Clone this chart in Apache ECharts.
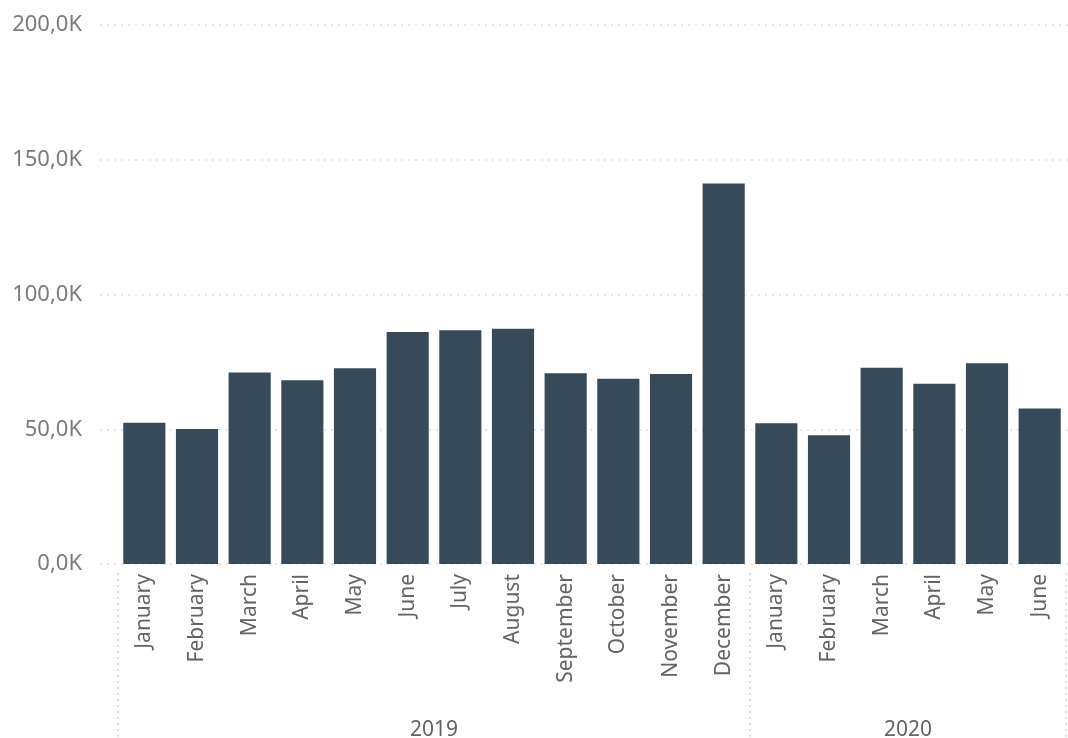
<!DOCTYPE html>
<html><head><meta charset="utf-8">
<script src="https://cdn.jsdelivr.net/npm/echarts@6/dist/echarts.min.js"></script>
<style>html,body{margin:0;padding:0;background:#fff}#c{width:1068px;height:738px}</style>
</head><body><div id="c"></div>
<script>
const months = ['January','February','March','April','May','June','July','August','September','October','November','December','January','February','March','April','May','June'];
const values = [52400,50100,71100,68200,72600,86100,86700,87300,70800,68700,70500,141200,52200,47800,72800,66900,74500,57700];
const years = ['2019','2020'];
const yearCenters = [6, 15];
const yearBounds = [0, 12, 18];
const yTicks = [0, 50000, 100000, 150000, 200000];

const font = "'Segoe UI','Noto Sans','Open Sans',sans-serif";
const chart = echarts.init(document.getElementById('c'));
chart.setOption({
  animation:false,
  grid:[
    {left:100,right:0,top:25,bottom:174,outerBoundsMode:'none'},
    {left:118,right:2,top:25,bottom:174,outerBoundsMode:'none'}
  ],
  xAxis:[
    {gridIndex:0,type:'value',min:0,max:1,show:false},
    {gridIndex:1,type:'category',data:months,
      axisLine:{show:false},axisTick:{show:false},
      axisLabel:{rotate:90,margin:10,fontSize:21,color:'#636363',fontFamily:font,interval:0}},
    {gridIndex:1,type:'value',min:0,max:18,position:'bottom',offset:179,
      axisLine:{show:false},splitLine:{show:false},
      axisTick:{show:true,inside:true,length:173,customValues:yearBounds,
        lineStyle:{color:'#d4d4dc',type:[2,4],width:1.5}},
      axisLabel:{inside:true,margin:2,fontSize:21,color:'#636363',fontFamily:font,
        customValues:yearCenters,
        formatter:v=>years[yearCenters.indexOf(v)]||''}}
  ],
  yAxis:[
    {gridIndex:0,type:'value',min:yTicks[0],max:yTicks[yTicks.length-1],interval:50000,
      axisLine:{show:false},axisTick:{show:false},
      splitLine:{lineStyle:{color:'#dcdce6',type:[2,5],width:1.5}},
      axisLabel:{margin:18,fontSize:22,color:'#7a7a7a',fontFamily:font,
        formatter:v=>(v/1000).toFixed(1).replace('.',',')+'K'}},
    {gridIndex:1,type:'value',min:0,max:200000,interval:50000,show:false,splitLine:{show:false}}
  ],
  series:[{type:'bar',xAxisIndex:1,yAxisIndex:1,data:values,barCategoryGap:'20%',
    itemStyle:{color:'#374a5a'}}]
});
</script></body></html>
